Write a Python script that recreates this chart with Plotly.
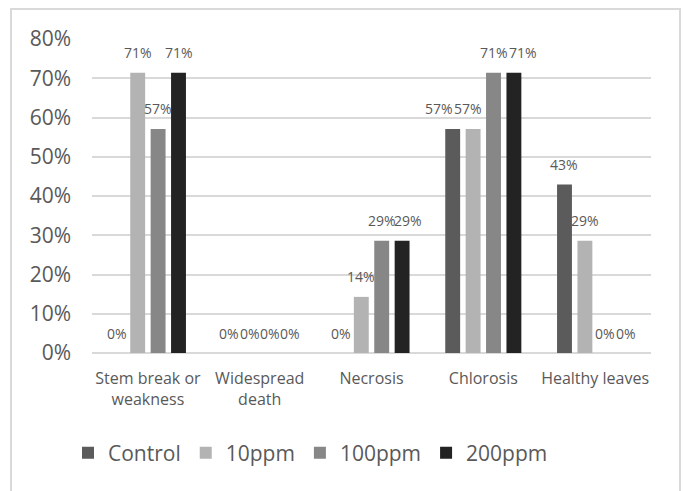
import plotly.graph_objects as go

# Share of plants showing each symptom, per treatment
categories = ["Stem break or<br>weakness", "Widespread<br>death", "Necrosis", "Chlorosis", "Healthy leaves"]
series_names = ["Control", "10ppm", "100ppm", "200ppm"]
control = [0.0, 0.0, 0.0, 0.571, 0.429]
ppm10 = [0.714, 0.0, 0.143, 0.571, 0.286]
ppm100 = [0.571, 0.0, 0.286, 0.714, 0.0]
ppm200 = [0.714, 0.0, 0.286, 0.714, 0.0]
series_values = [control, ppm10, ppm100, ppm200]
y_ticks = [0.0, 0.1, 0.2, 0.3, 0.4, 0.5, 0.6, 0.7, 0.8]

colors = ["#5b5b5b", "#b3b3b3", "#878787", "#232323"]
text_color = "#595959"
grid_color = "#d9d9d9"
font_family = "Open Sans, DejaVu Sans, sans-serif"

W, H = 686, 491
M_L, M_R, M_T, M_B = 92, 35, 39, 138
PLOT_W = W - M_L - M_R
PLOT_H = H - M_T - M_B
BARGAP = 0.27
BARGROUPGAP = 0.27

# pixel nudges so that crowded data labels do not sit on top of each other
LABEL_NUDGE = {(2, 3): 6, (3, 0): -14, (3, 1): -5, (3, 3): 9}


def px_x(p):
    return (p - M_L) / PLOT_W


def px_y(p):
    return (M_T + PLOT_H - p) / PLOT_H


fig = go.Figure()
for name, vals, col in zip(series_names, series_values, colors):
    fig.add_trace(go.Bar(
        name=name,
        x=list(range(len(categories))),
        y=vals,
        marker=dict(color=col, line=dict(width=0)),
    ))

# value labels above each bar
n = len(series_names)
slot = (1 - BARGAP) / n
annotations = []
for i, vals in enumerate(series_values):
    for j, v in enumerate(vals):
        annotations.append(dict(
            x=j + (i - (n - 1) / 2) * slot,
            y=v,
            xref="x", yref="y",
            text=f"{v:.0%}",
            showarrow=False,
            yanchor="middle",
            xanchor="center",
            yshift=20,
            xshift=LABEL_NUDGE.get((j, i), 0),
            font=dict(family=font_family, size=14, color=text_color),
        ))

fig.update_layout(
    width=W, height=H,
    margin=dict(l=M_L, r=M_R, t=M_T, b=M_B),
    paper_bgcolor="white",
    plot_bgcolor="white",
    barmode="group",
    bargap=BARGAP,
    bargroupgap=BARGROUPGAP,
    font=dict(family=font_family, color=text_color),
    annotations=annotations,
    showlegend=True,
    legend=dict(
        orientation="h",
        x=px_x(68), xanchor="left",
        y=px_y(453), yanchor="middle",
        font=dict(family=font_family, size=21, color=text_color),
        bgcolor="rgba(0,0,0,0)",
    ),
    shapes=[dict(
        type="rect", xref="paper", yref="paper",
        x0=px_x(11), x1=px_x(680), y0=px_y(9), y1=px_y(510),
        line=dict(color=grid_color, width=2),
        fillcolor="rgba(0,0,0,0)",
        layer="below",
    )],
)

fig.update_xaxes(
    tickmode="array",
    tickvals=list(range(len(categories))),
    ticktext=categories,
    range=[-0.5, len(categories) - 0.5],
    showgrid=False,
    showline=False,
    zeroline=False,
    ticks="",
    ticklabelstandoff=14,
    tickfont=dict(family=font_family, size=16, color=text_color),
)

fig.update_yaxes(
    range=[0, 0.8],
    tickmode="array",
    tickvals=y_ticks,
    tickformat=".0%",
    showgrid=True,
    gridcolor=grid_color,
    gridwidth=2,
    zeroline=True,
    zerolinecolor=grid_color,
    zerolinewidth=2,
    showline=False,
    ticks="",
    ticklabelstandoff=20,
    tickfont=dict(family=font_family, size=21, color=text_color),
)

fig.write_html("out.html")
